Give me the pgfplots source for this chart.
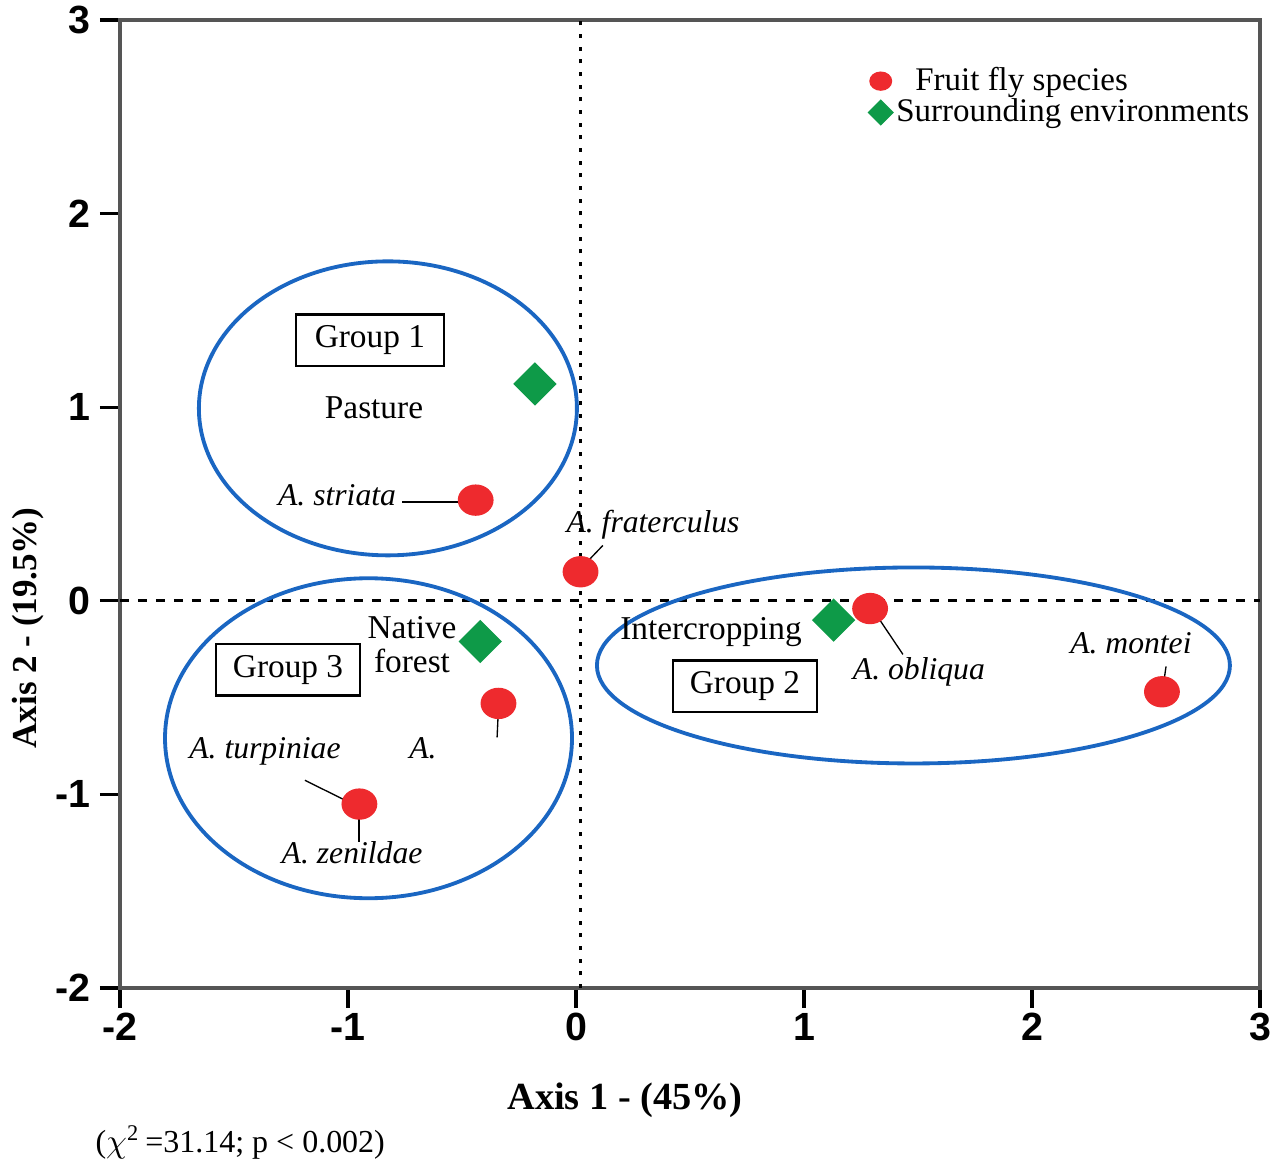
\documentclass[border=0pt]{standalone}
\usepackage{pgfplots}
\pgfplotsset{compat=1.18}
\usepackage{fontspec}
\setmainfont{Liberation Serif}
\setsansfont{Liberation Sans}
\definecolor{ffred}{HTML}{EE2A2E}
\definecolor{envgreen}{HTML}{0E9A48}
\definecolor{ellblue}{HTML}{1A66C2}
\definecolor{axisgray}{HTML}{555555}
\begin{document}
\begin{tikzpicture}
\useasboundingbox (-36pt,-51.6pt) rectangle (347.4pt,296.4pt);
\begin{axis}[
  at={(0,0)}, anchor=south west,
  scale only axis, width=342pt, height=290.4pt,
  xmin=-2, xmax=3, ymin=-2, ymax=3,
  xtick={-2,-1,0,1,2,3}, ytick={-2,-1,0,1,2,3},
  xticklabels={-2,-1,0,1,2,3}, yticklabels={-2,-1,0,1,2,3},
  xtick pos=bottom, ytick pos=left,
  tick align=outside, major tick length=6pt,
  axis line style={draw=axisgray, line width=1.1pt},
  tick style={black, line width=1pt},
  ticklabel style={font=\sffamily\bfseries\fontsize{11.8}{13}\selectfont},
  xticklabel style={yshift=2pt},
  yticklabel style={xshift=0.7pt},
  clip=false,
  xlabel={Axis 1 - (45\%)},
  xlabel style={at={(axis description cs:0.443,-0.1157)}, anchor=center, font=\bfseries\fontsize{11.5}{13}\selectfont},
  ylabel={Axis 2 - (19.5\%)},
  ylabel style={at={(axis description cs:-0.0807,0.372)}, anchor=center, font=\bfseries\fontsize{10.5}{12}\selectfont},
  legend style={at={(axis description cs:0.656,0.959)}, anchor=north west, draw=none, fill=none,
    font=\fontsize{9.9}{11}\selectfont, row sep=-3pt, inner sep=0pt, nodes={inner xsep=1pt}},
  legend cell align=left,
]
% reference lines
\draw[black, line width=1pt, dash pattern=on 1.2pt off 2.6pt] (axis cs:0.02,-2) -- (axis cs:0.02,3);
\draw[black, line width=1pt, dash pattern=on 2.7pt off 2.7pt] (axis cs:-2,0) -- (axis cs:3,0);
% group ellipses
\draw[ellblue, line width=1.15pt] (axis cs:-0.825,0.994) ellipse [x radius=56.7pt, y radius=44.1pt];
\draw[ellblue, line width=1.15pt] (axis cs:-0.91,-0.71) ellipse [x radius=61.05pt, y radius=48pt];
\draw[ellblue, line width=1.15pt] (axis cs:1.48,-0.334) ellipse [x radius=94.95pt, y radius=29.4pt];
% leader lines
\draw[black, line width=0.4pt] (axis cs:-0.763,0.51) -- (axis cs:-0.50,0.51);
\draw[black, line width=0.4pt] (axis cs:0.048,0.20) -- (axis cs:0.118,0.286);
\draw[black, line width=0.4pt] (axis cs:1.333,-0.10) -- (axis cs:1.434,-0.277);
\draw[black, line width=0.4pt] (axis cs:2.579,-0.411) -- (axis cs:2.588,-0.339);
\draw[black, line width=0.4pt] (axis cs:-0.342,-0.602) -- (axis cs:-0.346,-0.705);
\draw[black, line width=0.4pt] (axis cs:-0.952,-1.124) -- (axis cs:-0.952,-1.248);
\draw[black, line width=0.4pt] (axis cs:-1.189,-0.927) -- (axis cs:-1.013,-1.03);
% data
\addplot[only marks, mark=*, color=ffred, mark size=4.5pt, mark options={xscale=1.15, draw=ffred, fill=ffred}, forget plot]
  coordinates {(-0.44,0.52) (0.02,0.15) (-0.34,-0.53) (-0.95,-1.05) (1.29,-0.04) (2.57,-0.47)};
\addplot[only marks, mark=square*, color=envgreen, mark size=4.4pt, mark options={rotate=45, draw=envgreen, fill=envgreen}, forget plot]
  coordinates {(-0.18,1.12) (-0.42,-0.21) (1.13,-0.10)};
% legend
\addlegendimage{only marks, mark=*, color=ffred, mark size=2.7pt, mark options={xscale=1.2, draw=ffred, fill=ffred}}
\addlegendentry{\hspace*{5.7pt}Fruit fly species}
\addlegendimage{only marks, mark=square*, color=envgreen, mark size=2.6pt, mark options={rotate=45, draw=envgreen, fill=envgreen}}
\addlegendentry{Surrounding environments}
% text labels
\begin{scope}[every node/.style={font=\fontsize{10}{12}\selectfont}]
\node[draw=black, line width=0.8pt, minimum width=44.4pt, minimum height=14.4pt] at (axis cs:-0.904,1.345) {Group 1};
\node[draw=black, line width=0.8pt, minimum width=43.2pt, minimum height=14pt] at (axis cs:-1.263,-0.356) {Group 3};
\node[draw=black, line width=0.8pt, minimum width=43.2pt, minimum height=14.7pt] at (axis cs:0.741,-0.442) {Group 2};
\node at (axis cs:-0.886,0.999) {Pasture};
\node at (axis cs:-0.719,-0.137) {Native};
\node at (axis cs:-0.719,-0.313) {forest};
\node at (axis cs:0.592,-0.163) {Intercropping};
\node[font=\itshape\fontsize{9.5}{12}\selectfont] at (axis cs:-1.048,0.545) {A. striata};
\node[font=\itshape\fontsize{9.5}{12}\selectfont] at (axis cs:0.338,0.395) {A. fraterculus};
\node[font=\itshape\fontsize{9.5}{12}\selectfont] at (axis cs:-1.364,-0.777) {A. turpiniae};
\node[font=\itshape\fontsize{9.5}{12}\selectfont] at (axis cs:-0.671,-0.761) {A.};
\node[font=\itshape\fontsize{9.5}{12}\selectfont] at (axis cs:-0.982,-1.299) {A. zenildae};
\node[font=\itshape\fontsize{9.5}{12}\selectfont] at (axis cs:1.504,-0.369) {A. obliqua};
\node[font=\itshape\fontsize{9.5}{12}\selectfont] at (axis cs:2.434,-0.219) {A. montei};
\end{scope}
\node[anchor=west, font=\fontsize{9.6}{12}\selectfont, inner sep=0pt] at (axis description cs:-0.022,-0.160) {($\chi$\textsuperscript{2}\,=31.14; p < 0.002)};
\end{axis}
\end{tikzpicture}
\end{document}
